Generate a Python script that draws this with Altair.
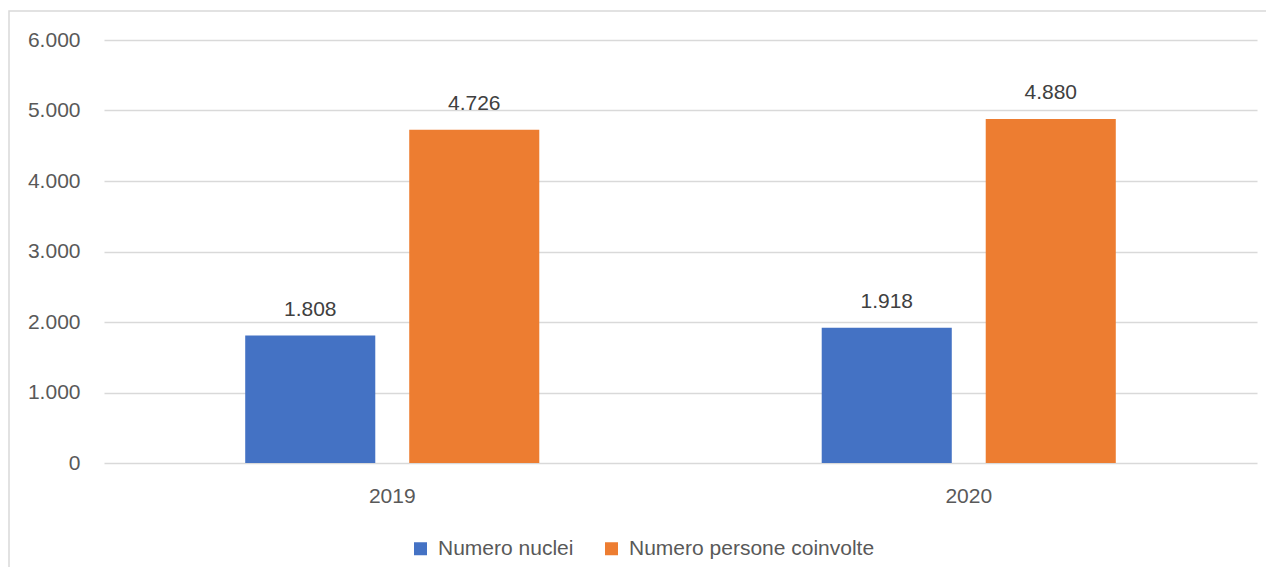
import altair as alt
import pandas as pd

years = ["2019", "2020"]
series = ["Numero nuclei", "Numero persone coinvolte"]
nuclei = [1808, 1918]
persone = [4726, 4880]
colors = ["#4472C4", "#ED7D31"]

rows = []
for i, y in enumerate(years):
    for s, vals in zip(series, [nuclei, persone]):
        v = vals[i]
        rows.append({"anno": y, "serie": s, "valore": v,
                     "etichetta": f"{v:,}".replace(",", ".")})
df = pd.DataFrame(rows)

FONT = "Liberation Sans"
TXT = "#595959"
GRID = "#d9d9d9"

base = alt.Chart(df).encode(
    x=alt.X("anno:N", sort=years, title=None,
            scale=alt.Scale(paddingInner=0, paddingOuter=0),
            axis=alt.Axis(labelAngle=0, ticks=False, domain=False, grid=False,
                          labelFont=FONT, labelFontSize=21, labelColor=TXT,
                          labelPadding=22)),
    xOffset=alt.XOffset("serie:N", sort=series,
                        scale=alt.Scale(paddingInner=0.207, paddingOuter=0.861)),
)

bars = base.mark_bar().encode(
    y=alt.Y("valore:Q", title=None,
            scale=alt.Scale(domain=[0, 6000]),
            axis=alt.Axis(values=[0, 1000, 2000, 3000, 4000, 5000, 6000],
                          labelExpr="replace(format(datum.value, ',d'), ',', '.')",
                          ticks=False, domain=False, gridColor=GRID, gridWidth=1.3,
                          labelFont=FONT, labelFontSize=21, labelColor=TXT,
                          labelPadding=24)),
    color=alt.Color("serie:N", sort=series,
                    scale=alt.Scale(domain=series, range=colors),
                    legend=alt.Legend(orient="none", legendX=306, legendY=498,
                                      direction="horizontal", title=None,
                                      symbolType="square", symbolSize=169,
                                      symbolStrokeWidth=0,
                                      labelFont=FONT, labelFontSize=21,
                                      labelColor=TXT, labelOffset=7,
                                      labelLimit=400, columnPadding=27)),
)

labels = base.mark_text(baseline="bottom", dy=-16, font=FONT, fontSize=21,
                        color="#404040").encode(
    y=alt.Y("valore:Q"),
    text="etichetta:N",
)

border = alt.Chart(pd.DataFrame({"k": [0]})).mark_rect(
    fillOpacity=0, stroke=GRID, strokeWidth=1.5
).encode(
    x=alt.value(-95), x2=alt.value(1300), y=alt.value(-29), y2=alt.value(600)
)

chart = alt.layer(border, bars, labels).properties(
    width=1153, height=423,
    autosize=alt.AutoSizeParams(type="none"),
    padding={"left": 96, "top": 32, "right": 9, "bottom": 104},
).configure_view(stroke=None)

chart.save("out.html", embed_options={"renderer": "svg", "actions": False})
